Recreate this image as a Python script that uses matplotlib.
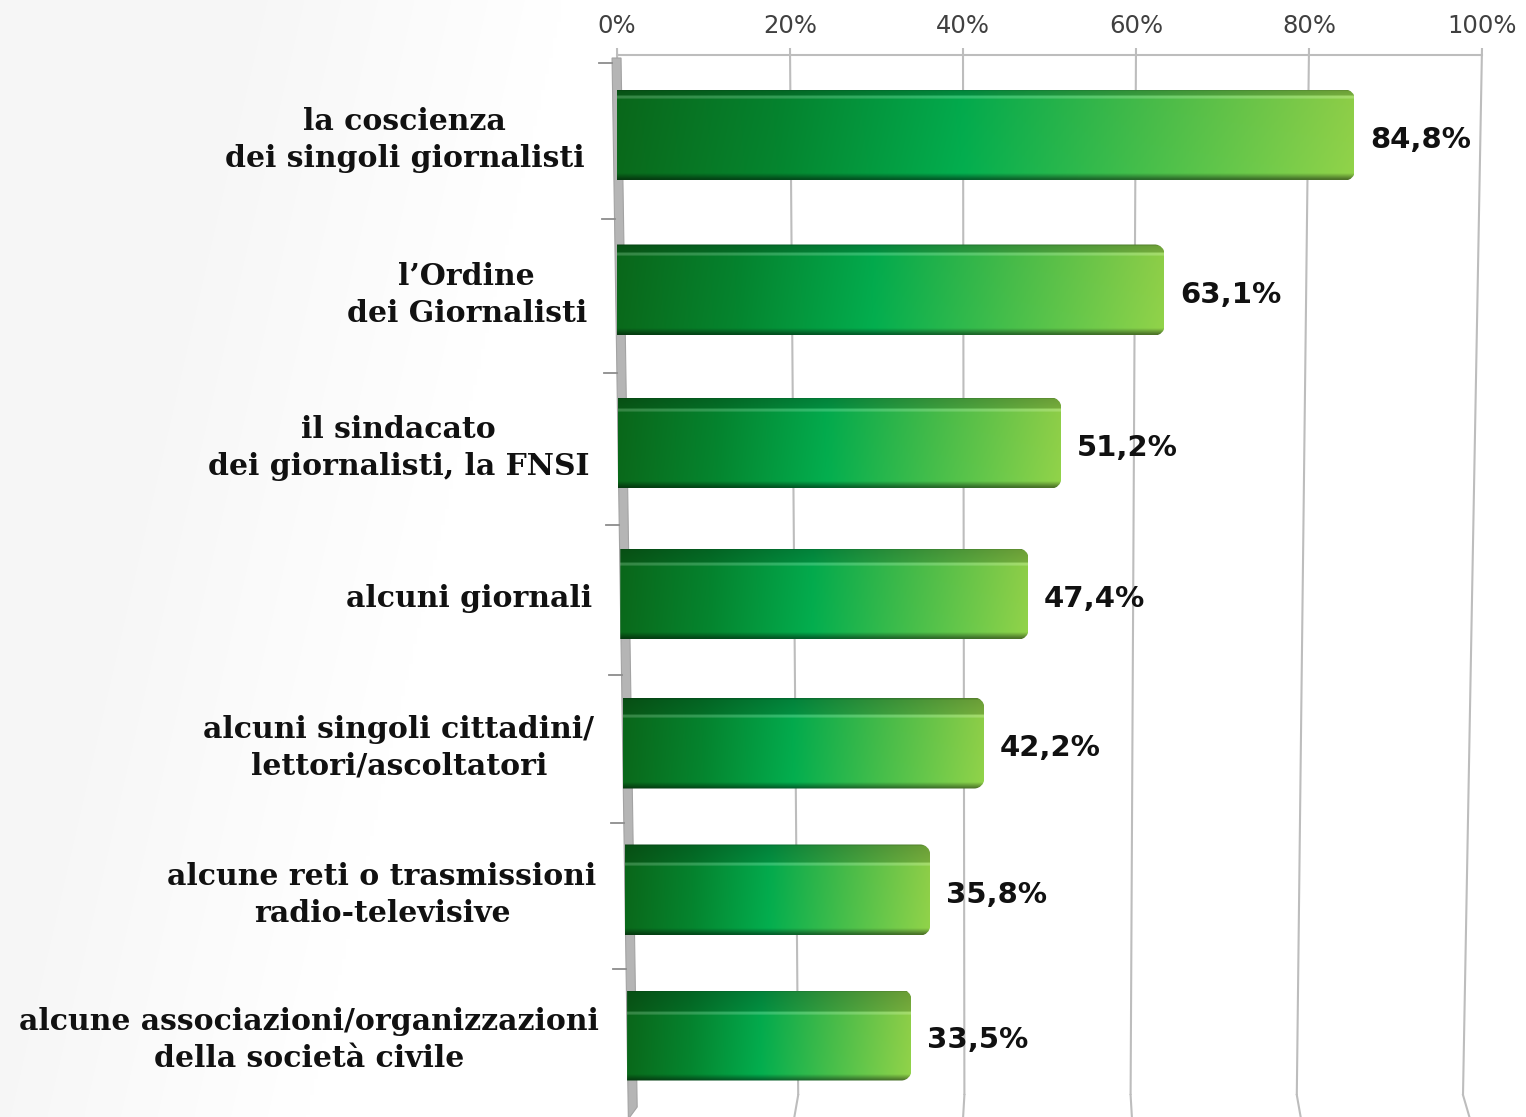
import numpy as np
import matplotlib
matplotlib.use("Agg")
import matplotlib.pyplot as plt
from matplotlib.path import Path
from matplotlib.patches import PathPatch, Polygon
from matplotlib.transforms import Affine2D
from matplotlib.colors import to_rgb

# ---------------------------------------------------------------- data
categories = [
    "la coscienza\ndei singoli giornalisti",
    "l\u2019Ordine\ndei Giornalisti",
    "il sindacato\ndei giornalisti, la FNSI",
    "alcuni giornali",
    "alcuni singoli cittadini/\nlettori/ascoltatori",
    "alcune reti o trasmissioni\nradio-televisive",
    "alcune associazioni/organizzazioni\ndella societ\u00e0 civile",
]
values = [84.8, 63.1, 51.2, 47.4, 42.2, 35.8, 33.5]
value_labels = ["84,8%", "63,1%", "51,2%", "47,4%", "42,2%", "35,8%", "33,5%"]
tick_values = [0, 20, 40, 60, 80, 100]
tick_labels = ["0%", "20%", "40%", "60%", "80%", "100%"]

# ---------------------------------------------------------------- layout (pixels)
W, H, DPI = 1526, 1117, 100
PX_LEFT, PX_RIGHT, PX_TOP, PX_BOTTOM = 617, 1482, 55, 1095
PX_PER_UNIT = (PX_RIGHT - PX_LEFT) / 100.0
BAR_PX = 91                         # bar thickness
GRID_COLOR = "#bdbdbd"
ROW0_PX = 135                       # centre of first row

# rows recede slightly: pixel position of row y is ROW0_PX + 156*y - y**2
PA, PB = 156.0, 1.0


def row_fwd(y):
    y = np.asarray(y, dtype=float)
    return PA * y - PB * y * y


def row_inv(u):
    u = np.asarray(u, dtype=float)
    c = PA / (2 * PB)
    return c - np.sqrt(np.maximum(c * c - u / PB, 0))


def px_to_y(p):
    return float(row_inv(p - ROW0_PX))


def y_to_px(y):
    return ROW0_PX + float(row_fwd(y))


fig = plt.figure(figsize=(W / DPI, H / DPI), dpi=DPI)

# faint diagonal shading behind the labels
bg_ax = fig.add_axes([0, 0, 1, 1], zorder=-5)
yy, xx = np.mgrid[0:H:4, 0:W:4]
g = np.clip((xx - (260 - 0.23 * yy)) / 300.0, 0, 1)
shade = 0.968 + 0.032 * g
bg_ax.imshow(np.dstack([shade] * 3), extent=(0, W, H, 0), aspect="auto",
             interpolation="bilinear")
bg_ax.set_axis_off()

ax = fig.add_axes([PX_LEFT / W, 1 - PX_BOTTOM / H,
                   (PX_RIGHT - PX_LEFT) / W, (PX_BOTTOM - PX_TOP) / H])
ax.patch.set_alpha(0)
ax.set_yscale("function", functions=(row_fwd, row_inv))
y_top = px_to_y(PX_TOP)
y_bot = px_to_y(PX_BOTTOM)


def depth(y):
    return (y_to_px(y) - PX_TOP) / (PX_BOTTOM - PX_TOP)


def wall_geom(y):
    """left edge (px) and pixels per percent on the back wall"""
    t = depth(y)
    return PX_LEFT + 15 * t, PX_PER_UNIT - 0.34 * t


def front_geom(y):
    """left edge (px) and pixels per percent for the bar fronts"""
    t = depth(y)
    return 612 + 16 * t, 8.77 - 0.30 * t


def row_tf(y):
    left, pxpp = front_geom(y)
    return (Affine2D().scale(pxpp / PX_PER_UNIT, 1)
            .translate((left - PX_LEFT) / PX_PER_UNIT, 0) + ax.transData)


def wall_x(v, y):
    left, pxpp = wall_geom(y)
    return (left - PX_LEFT + v * pxpp) / PX_PER_UNIT


# ---------------------------------------------------------------- back wall grid
y_tick_top = px_to_y(PX_TOP - 7)
y_floor = px_to_y(H + 2)
for v in tick_values:
    xa, xb = wall_x(v, y_top), wall_x(v, y_bot)
    ax.plot([xa, xb], [y_tick_top, y_bot], color=GRID_COLOR, lw=1.5,
            zorder=1, clip_on=False, solid_capstyle="butt")
    if v > 0:
        ax.plot([xb, xb + (v - 50) * 0.14 / PX_PER_UNIT], [y_bot, y_floor],
                color=GRID_COLOR, lw=1.5, zorder=1, clip_on=False)
ax.plot([wall_x(0, y_top), wall_x(100, y_top)], [y_top, y_top],
        color=GRID_COLOR, lw=1.5, zorder=1, clip_on=False)

# grey side wall at 0 %
y_strip_top = px_to_y(PX_TOP + 3)
strip = []
for yv in (y_strip_top, y_floor):
    left, _ = front_geom(yv)
    strip.append(((left - PX_LEFT) / PX_PER_UNIT, yv))
for yv in (px_to_y(H - 10), y_strip_top):
    left, _ = front_geom(yv)
    strip.append(((left + 9 - PX_LEFT) / PX_PER_UNIT, yv))
ax.add_patch(Polygon(strip, closed=True, facecolor="#b5b5b5",
                     edgecolor="#a3a3a3", lw=0.8, zorder=2, clip_on=False))

# category separator ticks
for k in range(len(values)):
    yb = k - 0.5 + 0.04
    left, _ = front_geom(yb)
    ax.plot([(left - 13 - PX_LEFT) / PX_PER_UNIT, (left - PX_LEFT) / PX_PER_UNIT],
            [yb, yb], color="#8c8c8c", lw=1.3, zorder=2, clip_on=False)

# ---------------------------------------------------------------- bars
stops = [(0.0, "#0a6a1b"), (0.22, "#05862f"), (0.47, "#03af4f"),
         (0.72, "#48c04b"), (1.0, "#92d44a")]
sx = np.array([s[0] for s in stops])
sc = np.array([to_rgb(s[1]) for s in stops])
NX = 300
fx = np.linspace(0, 1, NX)
base = np.stack([np.interp(fx, sx, sc[:, c]) for c in range(3)], axis=1)


def bar_image(i):
    band = int(round(10 + 2.5 * i))
    img = np.empty((BAR_PX, NX, 3))
    for r in range(BAR_PX):
        if r < 2:
            row = base * 0.62
        elif r < band - 3:
            row = base * (0.74 + 0.08 * (r / max(band - 3, 1)))
        elif r < band:
            row = base + (1 - base) * 0.18
        elif r > BAR_PX - 7:
            k = (r - (BAR_PX - 7)) / 6.0
            row = base * (1 - 0.45 * k)
        else:
            row = base * (0.97 + 0.03 * (r - band) / (BAR_PX - band))
        img[r] = row
    return np.clip(img, 0, 1)


def bar_path(v, y0, y1, rx, ry0, ry1):
    k = 0.5523
    verts = [(0, y0), (v - rx, y0),
             (v - rx + k * rx, y0), (v, y0 + ry0 - k * ry0), (v, y0 + ry0),
             (v, y1 - ry1),
             (v, y1 - ry1 + k * ry1), (v - rx + k * rx, y1), (v - rx, y1),
             (0, y1), (0, y0)]
    codes = [Path.MOVETO, Path.LINETO,
             Path.CURVE4, Path.CURVE4, Path.CURVE4,
             Path.LINETO,
             Path.CURVE4, Path.CURVE4, Path.CURVE4,
             Path.LINETO, Path.CLOSEPOLY]
    return Path(verts, codes)


for i, (v, lab, cat) in enumerate(zip(values, value_labels, categories)):
    yc = i
    pc = y_to_px(yc)
    y0, y1 = px_to_y(pc - BAR_PX / 2), px_to_y(pc + BAR_PX / 2)
    tf = row_tf(yc)
    _, pxpp = front_geom(yc)
    r0 = px_to_y(pc - BAR_PX / 2 + 10) - y0
    r1 = y1 - px_to_y(pc + BAR_PX / 2 - 10)
    clip = PathPatch(bar_path(v, y0, y1, 10 / pxpp, r0, r1),
                     transform=tf, facecolor="none", edgecolor="none")
    ax.add_patch(clip)
    im = ax.imshow(bar_image(i), extent=(0, v, y1, y0), transform=tf,
                   aspect="auto", interpolation="bilinear", origin="upper",
                   zorder=3)
    im.set_clip_path(clip)

    ax.text(v + 1.8, px_to_y(pc + 5), lab, transform=tf, ha="left",
            va="center", fontsize=21, fontweight="bold", family="DejaVu Sans",
            color="#111111", zorder=4)
    ax.text(-3.3, px_to_y(pc + 5), cat, transform=tf, ha="right", va="center",
            multialignment="center", fontsize=21.5, fontweight="bold",
            family="DejaVu Serif", color="#111111", linespacing=1.32,
            zorder=4, clip_on=False)

# ---------------------------------------------------------------- axes cosmetics
ax.set_xticks(tick_values)
ax.set_xticklabels(tick_labels)
ax.xaxis.tick_top()
ax.tick_params(axis="x", length=0, pad=12, labelsize=17.5, labelcolor="#404040")
ax.set_yticks([])
ax.yaxis.set_minor_locator(matplotlib.ticker.NullLocator())
for s in ax.spines.values():
    s.set_visible(False)
ax.set_xlim(0, 100)
ax.set_ylim(y_bot, y_top)

fig.savefig("out.png", dpi=DPI)
